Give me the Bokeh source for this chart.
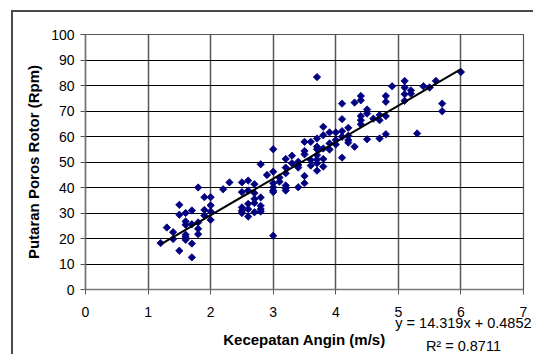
import numpy as np
from bokeh.plotting import figure
from bokeh.models import ColumnDataSource, FixedTicker, LinearAxis
from bokeh.embed import file_html
from bokeh.resources import INLINE

# Wind speed (m/s) and rotor shaft speed (rpm) measurements
kecepatan_angin = [
    1.2, 1.3, 1.4, 1.4, 1.5, 1.5, 1.5,
    1.6, 1.6, 1.6, 1.6, 1.6, 1.6,
    1.7, 1.7, 1.7, 1.7, 1.8, 1.8, 1.8, 1.8,
    1.9, 1.9, 1.9, 2.0, 2.0, 2.0, 2.0, 2.2, 2.3,
    2.5, 2.5, 2.5, 2.5, 2.5, 2.6, 2.6, 2.6, 2.6, 2.6,
    2.7, 2.7, 2.7, 2.7, 2.7, 2.8, 2.8, 2.8, 2.8, 2.8, 2.9,
    3.0, 3.0, 3.0, 3.0, 3.0, 3.0, 3.0, 3.1, 3.1,
    3.2, 3.2, 3.2, 3.2, 3.2, 3.2, 3.3, 3.3,
    3.4, 3.4, 3.4, 3.4, 3.5, 3.5, 3.5, 3.5, 3.5,
    3.6, 3.6, 3.6, 3.7, 3.7, 3.7, 3.7, 3.7, 3.7, 3.7, 3.7,
    3.8, 3.8, 3.8, 3.8, 3.8, 3.9, 3.9, 3.9, 4.0, 4.0, 4.0,
    4.1, 4.1, 4.1, 4.1, 4.1, 4.2, 4.2, 4.2, 4.2, 4.3, 4.3,
    4.4, 4.4, 4.4, 4.4, 4.4, 4.5, 4.5, 4.5, 4.6,
    4.7, 4.7, 4.7, 4.8, 4.8, 4.8, 4.8, 4.9,
    5.1, 5.1, 5.1, 5.1, 5.2, 5.2, 5.3, 5.4, 5.5, 5.6, 5.7, 5.7, 6.0,
]
putaran_rotor = [
    18.2, 24.3, 22.5, 19.8, 33.2, 29.3, 15.2,
    30.0, 26.7, 25.4, 21.5, 20.6, 19.5,
    31.0, 25.6, 18.0, 12.6, 40.0, 26.3, 23.8, 21.7,
    36.2, 31.2, 29.0, 36.2, 33.0, 30.6, 27.3, 39.3, 42.0,
    42.0, 38.2, 32.2, 30.9, 30.0, 42.7, 38.8, 33.6, 31.5, 28.6,
    41.3, 37.8, 35.5, 33.9, 30.3, 49.1, 36.1, 32.8, 31.5, 30.6, 44.9,
    55.0, 46.2, 41.7, 40.1, 38.8, 38.2, 21.1, 43.9, 42.3,
    51.2, 47.8, 45.6, 40.8, 39.7, 38.8, 52.5, 49.5,
    50.1, 48.8, 47.8, 40.1, 57.9, 54.3, 53.0, 44.5, 41.7,
    57.9, 50.8, 48.6, 83.3, 59.2, 56.0, 55.0, 52.7, 51.0, 49.5, 46.6,
    63.8, 60.5, 55.3, 51.2, 48.2, 61.6, 57.3, 54.9, 61.6, 58.6, 56.9,
    72.9, 66.8, 62.1, 59.9, 51.7, 63.4, 60.3, 58.6, 57.6, 73.3, 56.0,
    75.9, 74.2, 68.0, 66.4, 64.8, 70.6, 69.0, 58.9, 67.0,
    68.4, 66.4, 59.2, 75.9, 73.6, 68.0, 60.9, 79.7,
    81.8, 79.2, 76.6, 74.0, 78.1, 76.8, 61.2, 79.7, 79.2, 81.8, 72.9, 69.9, 85.3,
]

# Linear trendline coefficients
slope = 14.319
intercept = 0.4852
r_squared = 0.8711

x_ticks = [0, 1, 2, 3, 4, 5, 6, 7]
y_ticks = [0, 10, 20, 30, 40, 50, 60, 70, 80, 90, 100]

FONT = "Liberation Sans"
EQ_X = 6.04  # horizontal anchor of the trendline equation

p = figure(
    width=522, height=344,
    x_range=(0, 7), y_range=(0, 100),
    output_backend="svg", toolbar_location=None,
    min_border_left=72, min_border_right=12,
    min_border_top=22, min_border_bottom=66,
)
# chart area border (left and top edges visible in the window)
p.styles = {
    "margin-left": "11px", "margin-top": "10px",
    "border-left": "2px solid #4a4a4a", "border-top": "2px solid #4a4a4a",
}
p.background_fill_color = "white"
p.border_fill_color = "white"
p.outline_line_color = "#555555"
p.outline_line_width = 1.2

# Axes
for ax in (p.xaxis, p.yaxis):
    ax.axis_line_color = "#777777"
    ax.axis_line_width = 1.6
    ax.major_tick_line_color = "#555555"
    ax.major_tick_out = 5
    ax.major_tick_in = 0
    ax.minor_tick_line_color = None
    ax.major_label_text_font = FONT
    ax.major_label_text_font_size = "14px"
    ax.major_label_text_color = "black"
    ax.axis_label_text_font = FONT
    ax.axis_label_text_font_size = "15px"
    ax.axis_label_text_font_style = "bold"
    ax.axis_label_text_color = "black"

p.xaxis.ticker = FixedTicker(ticks=x_ticks)
p.yaxis.ticker = FixedTicker(ticks=y_ticks)
p.yaxis.axis_label = "Putaran Poros Rotor (Rpm)"
p.xaxis.major_label_standoff = 12
p.yaxis.major_label_standoff = 6
p.yaxis.axis_label_standoff = 6


def text_axis(label_text, standoff, title=None, title_standoff=0):
    """Axis below the frame used only to place one text at EQ_X."""
    ax = LinearAxis(ticker=FixedTicker(ticks=[EQ_X]),
                    major_label_overrides={EQ_X: label_text, str(EQ_X): label_text})
    ax.axis_line_color = None
    ax.major_tick_line_color = None
    ax.minor_tick_line_color = None
    ax.major_tick_out = 0
    ax.major_tick_in = 0
    ax.major_label_standoff = standoff
    ax.major_label_text_font = FONT
    ax.major_label_text_font_size = "14.5px"
    ax.major_label_text_color = "black"
    if title:
        ax.axis_label = title
        ax.axis_label_standoff = title_standoff
        ax.axis_label_text_font = FONT
        ax.axis_label_text_font_size = "15px"
        ax.axis_label_text_font_style = "bold"
        ax.axis_label_text_color = "black"
    return ax


# Trendline equation, x axis title and R squared
p.add_layout(text_axis(f"y = {slope}x + {intercept}", -5,
                       "Kecepatan Angin (m/s)", -3), "below")
p.add_layout(text_axis(f"R\u00b2 = {r_squared}", -13), "below")

# Grid
p.xgrid.ticker = FixedTicker(ticks=x_ticks)
p.ygrid.ticker = FixedTicker(ticks=y_ticks)
p.xgrid.grid_line_color = "#555555"
p.xgrid.grid_line_width = 1.5
p.ygrid.grid_line_color = "black"
p.ygrid.grid_line_width = 1

# Data points
src = ColumnDataSource(dict(x=kecepatan_angin, y=putaran_rotor))
p.scatter("x", "y", source=src, marker="square", size=5.2, angle=np.pi / 4,
          fill_color="#000080", line_color="#000080", line_width=0.8)

# Trendline over the range of the data
x_fit = np.array([min(kecepatan_angin), max(kecepatan_angin)])
y_fit = slope * x_fit + intercept
p.line(x_fit, y_fit, line_color="black", line_width=2)

open("out.html", "w").write(file_html(p, INLINE))
